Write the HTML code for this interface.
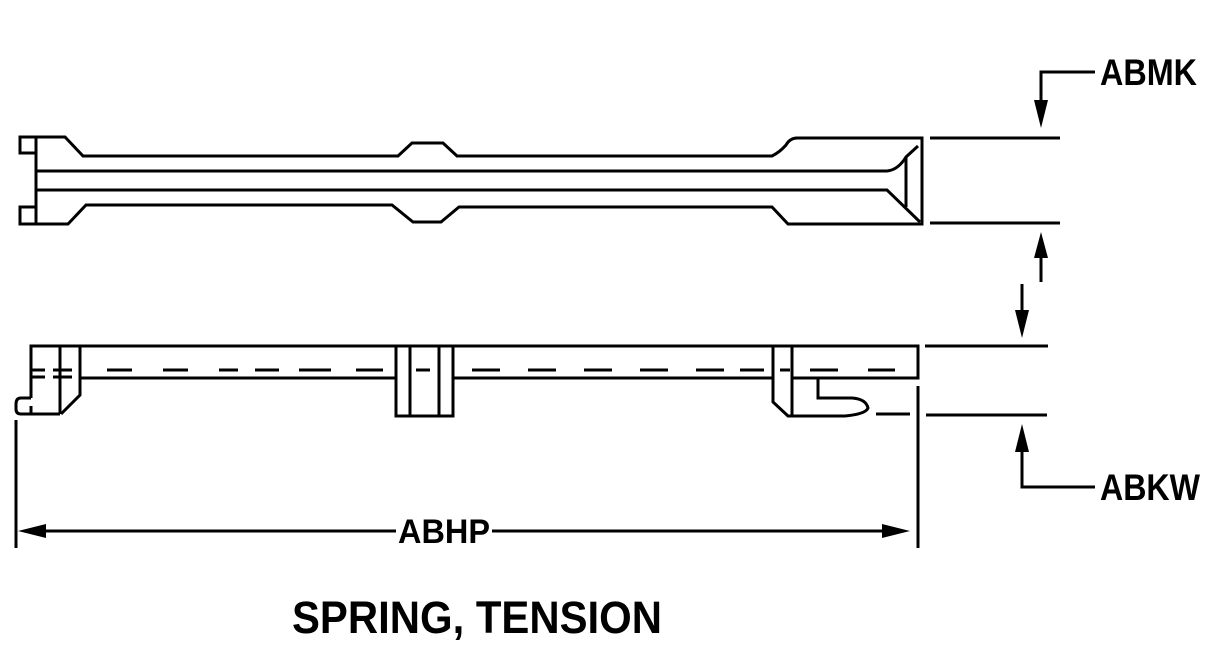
<!DOCTYPE html>
<html><head><style>html,body{margin:0;padding:0;background:#fff}svg{display:block}</style></head><body>
<svg width="1219" height="650" viewBox="0 0 1219 650" xmlns="http://www.w3.org/2000/svg">
<g fill="none" stroke="#000" stroke-width="3">
<rect x="20" y="137" width="16" height="16"/>
<rect x="20" y="207" width="16" height="17"/>
<line x1="36" y1="137" x2="36" y2="224"/>
<path d="M36 137 H65 L83 156 H398 L412 143 H443 L457 156 H772 Q780 152 786 145 Q790 138 797 138 H922 V224 H788 L772 207 H459 L441 222 H413 L392 205 H86 L68 224 H36"/>
<path d="M36 171 H887 Q898 170 906 157 L918 146"/>
<path d="M36 190 H887 L920 222"/>
<line x1="906" y1="157" x2="906" y2="207"/>
<line x1="930" y1="138" x2="1060" y2="138"/>
<line x1="930" y1="223" x2="1060" y2="223"/>
<line x1="925" y1="346" x2="1048" y2="346"/>
<line x1="926" y1="415" x2="1047" y2="415"/>
<path d="M1095 72 H1041 V110"/>
<line x1="1041" y1="248" x2="1041" y2="282"/>
<line x1="1022" y1="284" x2="1022" y2="320"/>
<path d="M1095 487 H1022 V445"/>
<line x1="16" y1="420" x2="16" y2="548"/>
<line x1="918" y1="386" x2="918" y2="548"/>
<line x1="30" y1="531" x2="396" y2="531"/>
<line x1="492" y1="531" x2="895" y2="531"/>
<path d="M31 398 V346 H918 V378 H792"/>
<path d="M31 398 H21 Q16 398 16 404 V409 Q16 414 21 414 H60"/>
<line x1="31" y1="406" x2="31" y2="414"/>
<line x1="60" y1="346" x2="60" y2="414"/>
<path d="M80 346 V395 L61 414"/>
<line x1="80" y1="378" x2="396" y2="378"/>
<line x1="453" y1="378" x2="773" y2="378"/>
<rect x="396" y="346" width="57" height="70"/>
<line x1="410" y1="346" x2="410" y2="416"/>
<line x1="439" y1="346" x2="439" y2="416"/>
<path d="M773 346 V402 L788 416 H845 Q866 414 868 408 Q866 399 852 398 H818 V378"/>
<line x1="792" y1="346" x2="792" y2="416"/>
<line x1="876" y1="414" x2="910" y2="414"/>
<g stroke-width="3">
<line x1="32" y1="370" x2="45" y2="370"/><line x1="53" y1="370" x2="72" y2="370"/>
<line x1="32" y1="377" x2="45" y2="377"/><line x1="53" y1="377" x2="72" y2="377"/>
<line x1="107" y1="370" x2="132" y2="370"/><line x1="163" y1="370" x2="188" y2="370"/>
<line x1="219" y1="370" x2="238" y2="370"/><line x1="255" y1="370" x2="279" y2="370"/>
<line x1="299" y1="370" x2="331" y2="370"/><line x1="356" y1="370" x2="383" y2="370"/>
<line x1="416" y1="370" x2="430" y2="370"/>
<line x1="472" y1="370" x2="500" y2="370"/><line x1="528" y1="370" x2="556" y2="370"/>
<line x1="584" y1="370" x2="612" y2="370"/><line x1="640" y1="370" x2="668" y2="370"/>
<line x1="696" y1="370" x2="724" y2="370"/><line x1="740" y1="370" x2="764" y2="370"/>
<line x1="780" y1="370" x2="790" y2="370"/><line x1="810" y1="370" x2="838" y2="370"/>
<line x1="868" y1="370" x2="895" y2="370"/>
</g>
</g>
<g fill="#000">
<polygon points="1034,100 1048,100 1041,128"/>
<polygon points="1034,258 1048,258 1041,232"/>
<polygon points="1015,310 1029,310 1022,338"/>
<polygon points="1015,452 1029,452 1022,424"/>
<polygon points="18,531 46,524 46,538"/>
<polygon points="910,531 882,524 882,538"/>
</g>
<g font-family="Liberation Sans, Arial, sans-serif" font-weight="bold" fill="#000">
<text x="1100" y="85" font-size="37" textLength="97" lengthAdjust="spacingAndGlyphs">ABMK</text>
<text x="1100" y="500" font-size="37" textLength="100" lengthAdjust="spacingAndGlyphs">ABKW</text>
<text x="398" y="543" font-size="34" textLength="92" lengthAdjust="spacingAndGlyphs">ABHP</text>
<text x="292" y="633" font-size="45" textLength="370" lengthAdjust="spacingAndGlyphs">SPRING, TENSION</text>
</g>
</svg>
</body></html>
